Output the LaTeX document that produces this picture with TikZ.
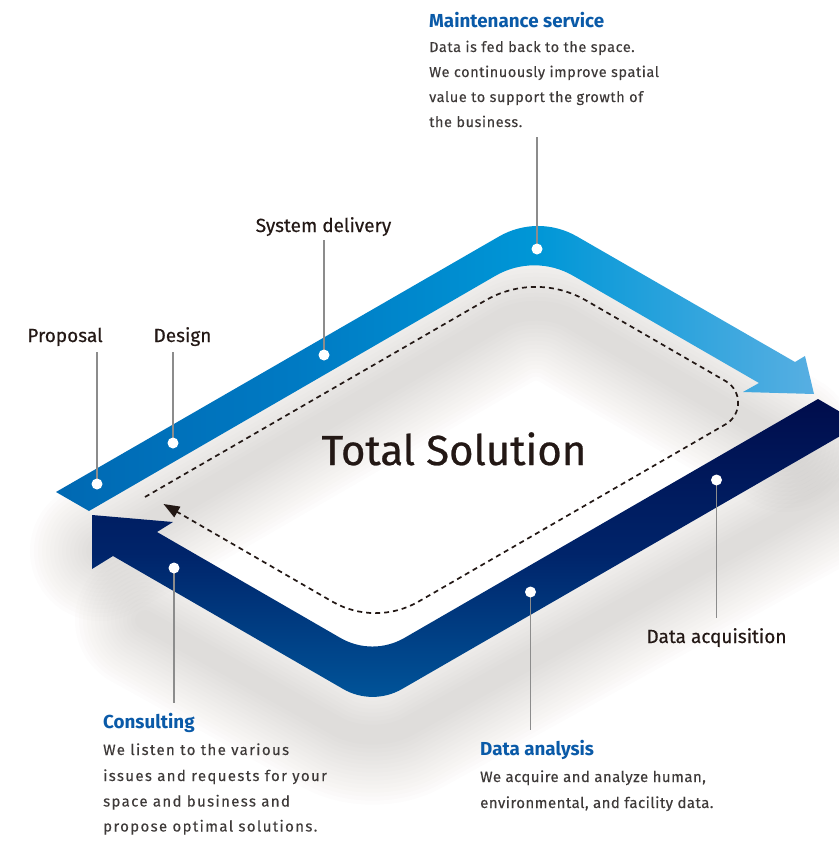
\documentclass[tikz,border=0pt]{standalone}
\usepackage{fontspec}
\setmainfont{Fira Sans}
\usetikzlibrary{calc,arrows.meta}
\definecolor{tbA}{HTML}{0068B2}
\definecolor{tbB}{HTML}{007AC3}
\definecolor{tbC}{HTML}{0097D7}
\definecolor{tbD}{HTML}{58AFE2}
\definecolor{bbA}{HTML}{000C4B}
\definecolor{bbB}{HTML}{00246A}
\definecolor{bbC}{HTML}{00589D}
\definecolor{ttlblue}{HTML}{0A5AA8}
\definecolor{bodyc}{HTML}{3E3A39}
\definecolor{labc}{HTML}{231815}
\definecolor{leadc}{HTML}{8C8C8C}
\definecolor{shadc}{HTML}{5A504B}
\tikzset{
  lbl/.style={font=\addfontfeatures{FakeBold=0.4}\fontsize{19}{22}\selectfont, text=labc, anchor=base, inner sep=0pt},
  ttl/.style={font=\bfseries\fontsize{18.8}{22}\selectfont, text=ttlblue, anchor=base west, inner sep=0pt},
  bodytxt/.style={font=\addfontfeatures{LetterSpace=4,FakeBold=0.2}\fontsize{14.5}{18}\selectfont, text=bodyc, anchor=base west, inner sep=0pt},
  bodywide/.style={font=\addfontfeatures{LetterSpace=9,FakeBold=0.2}\fontsize{15}{18}\selectfont, text=bodyc, anchor=base west, inner sep=0pt},
  bodytight/.style={font=\addfontfeatures{LetterSpace=3,FakeBold=0.2}\fontsize{15}{18}\selectfont, text=bodyc, anchor=base west, inner sep=0pt},
  leader/.style={draw=leadc, line width=1.3pt},
  wdot/.style={circle, fill=white, minimum size=11pt, inner sep=0pt},
  dashloop/.style={draw=labc, line width=1.7pt, dash pattern=on 5pt off 4pt},
}
\begin{document}
\begin{tikzpicture}[x=1pt,y=-1pt]
\useasboundingbox (0,0) rectangle (839,841);
\clip (0,0) rectangle (839,841);
\fill[white] (0,0) rectangle (839,841);
% ---------- shadow ----------
\foreach \w in {20,28,...,140}{
  \draw[shadc, opacity=0.013, line width=\w pt, line join=round, line cap=round, rounded corners=40pt]
    (100,551) -- (536,299) -- (785,442);
  \draw[shadc, opacity=0.013, line width=\w pt, line join=round, line cap=round, rounded corners=40pt]
    (850,483) -- (372.5,746) -- (145,620);
}
% ---------- coordinates ----------
\coordinate (P1) at (56,492);
\coordinate (Ct) at (538,214);
\coordinate (E1) at (795,362);
\coordinate (B1) at (805,356);
\coordinate (Tp) at (814,394);
\coordinate (B2) at (743,392);
\coordinate (E2) at (759,383);
\coordinate (Ci) at (534.3,253.3);
\coordinate (P3) at (89,511);
\coordinate (R1) at (818,399);
\coordinate (R2) at (861,424);
\coordinate (Cl) at (372.6,706);
\coordinate (N1) at (113,556);
\coordinate (A1) at (92,569);
\coordinate (A0) at (92,515);
\coordinate (A2) at (173,522);
\coordinate (N2) at (157,532);
\coordinate (Cu) at (372.4,656.4);
% ---------- bottom band ----------
\begin{scope}
\clip (R1) -- (R2) -- ($(Cl)!34pt!(R2)$) .. controls ($(Cl)!13pt!(R2)$) and ($(Cl)!13pt!(N1)$) .. ($(Cl)!34pt!(N1)$)
  -- (N1) -- (A1) -- (A0) -- (A2) -- (N2)
  -- ($(Cu)!37pt!(N2)$) .. controls ($(Cu)!14pt!(N2)$) and ($(Cu)!14pt!(R1)$) .. ($(Cu)!37pt!(R1)$) -- cycle;
\shade[top color=bbA, bottom color=bbC, middle color=bbB] (80,395) rectangle (870,710);
\end{scope}
% ---------- top band ----------
\begin{scope}
\clip (P1) -- ($(Ct)!45pt!(P1)$) .. controls ($(Ct)!17pt!(P1)$) and ($(Ct)!17pt!(E1)$) .. ($(Ct)!45pt!(E1)$)
  -- (E1) -- (B1) -- (Tp) -- (B2) -- (E2)
  -- ($(Ci)!45pt!(E2)$) .. controls ($(Ci)!17pt!(E2)$) and ($(Ci)!17pt!(P3)$) .. ($(Ci)!45pt!(P3)$) -- (P3) -- cycle;
\shade[left color=tbA, right color=tbC, middle color=tbB] (50,200) rectangle (538,520);
\shade[left color=tbC, right color=tbD] (538,200) rectangle (816,400);
\end{scope}
% ---------- dashed loop ----------
\coordinate (DS) at (145,497);
\coordinate (DT) at (535.7,271.4);
\coordinate (DR) at (763,402.7);
\coordinate (DB) at (375.4,626.5);
\coordinate (DE) at (163.5,504);
\draw[dashloop, -{Triangle[length=16pt,width=12pt]}]
  (DS) -- ($(DT)!58pt!(DS)$) .. controls ($(DT)!22pt!(DS)$) and ($(DT)!22pt!(DR)$) .. ($(DT)!58pt!(DR)$)
  -- ($(DR)!43pt!(DT)$) .. controls ($(DR)!24pt!(DT)$) and ($(DR)!24pt!(DB)$) .. ($(DR)!43pt!(DB)$)
  -- ($(DB)!50pt!(DR)$) .. controls ($(DB)!19pt!(DR)$) and ($(DB)!19pt!(DE)$) .. ($(DB)!50pt!(DE)$)
  -- (DE);
% ---------- title ----------
\node[font=\addfontfeatures{FakeBold=0.6}\fontsize{42}{46}\selectfont, text=labc, anchor=base, inner sep=0pt] (total) at (454,465) {Total Solution};
% ---------- labels ----------
\node[lbl] (lProp) at (65,342) {Proposal};
\node[lbl] (lDes) at (182.5,342) {Design};
\node[lbl] (lSys) at (323.5,232) {System delivery};
\node[lbl] (lAcq) at (716.5,643) {Data acquisition};
% Maintenance
\node[ttl] (tMain) at (429,27) {Maintenance service};
\node[bodytxt] (bMainA) at (429,52) {Data is fed back to the space.};
\node[bodytxt] (bMainB) at (429,77) {We continuously improve spatial};
\node[bodytxt] (bMainC) at (429,102) {value to support the growth of};
\node[bodytxt] (bMainD) at (429,127) {the business.};
% Consulting
\node[ttl] (tCons) at (103,728) {Consulting};
\node[bodywide] (bConsA) at (103,755) {We listen to the various};
\node[bodywide] (bConsB) at (103,781) {issues and requests for your};
\node[bodywide] (bConsC) at (103,806.5) {space and business and};
\node[bodywide] (bConsD) at (103,831.5) {propose optimal solutions.};
% Data analysis
\node[ttl] (tAna) at (480,755) {Data analysis};
\node[bodytight] (bAnaA) at (480,782) {We acquire and analyze human,};
\node[bodytight] (bAnaB) at (480,808) {environmental, and facility data.};
% ---------- dots and leaders ----------
\coordinate (dProp) at (97,484);
\coordinate (dDes) at (173,443);
\coordinate (dSys) at (324,355);
\coordinate (dMain) at (537,249);
\coordinate (dAcq) at (716.5,480);
\coordinate (dAna) at (530.5,592);
\coordinate (dCons) at (174,568);
\draw[leader] (dProp) -- ($(dProp |- lProp.base)+(0,10)$);
\draw[leader] (dDes) -- ($(dDes |- lDes.base)+(0,10)$);
\draw[leader] (dSys) -- ($(dSys |- lSys.base)+(0,8)$);
\draw[leader] (dMain) -- ($(dMain |- bMainD.base)+(0,10)$);
\draw[leader] (dAcq) -- ($(dAcq |- lAcq.base)+(0,-25)$);
\draw[leader] (dAna) -- ($(dAna |- tAna.base)+(0,-25)$);
\draw[leader] (dCons) -- ($(dCons |- tCons.base)+(0,-25)$);
\foreach \d in {dProp,dDes,dSys,dMain,dAcq,dAna,dCons}{
  \node[wdot] (n\d) at (\d) {};
}
\end{tikzpicture}
\end{document}
